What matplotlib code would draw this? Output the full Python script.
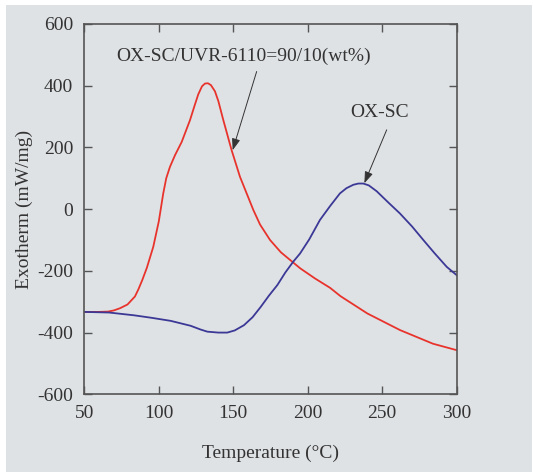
import matplotlib
matplotlib.use("Agg")
import matplotlib.pyplot as plt
from matplotlib.patches import Rectangle

# OX-SC/UVR-6110=90/10(wt%) curve (red)
red_t = [50, 60, 66, 70, 74, 79, 84, 86.3, 88.9, 92, 96.3, 100, 103, 105, 107.5, 110.9,
         115.4, 121, 124, 126.5, 129, 131, 133, 135, 137.7, 140, 143.3, 148.9, 154.5,
         163.5, 168, 174.7, 182, 190, 195, 205, 215, 222, 240, 262, 284, 300]
red_v = [-333, -333, -332, -328, -321, -309, -283, -260, -230, -190, -122, -40, 51, 100, 137, 175,
         218, 289, 335, 372, 398, 407, 408, 402, 382, 350, 289, 191, 105,
         -3, -50, -100, -140, -172, -192, -225, -255, -282, -338, -392, -436, -457]

# OX-SC curve (blue)
blue_t = [50, 66.6, 83.4, 95, 108, 121.4, 128, 132.6, 140, 146, 151, 157.2, 163, 168.4,
          174, 179.6, 185, 190.3, 194.8, 201, 208.2, 215, 221.6, 226, 230.6, 234, 237.3,
          241, 246.3, 254, 261.9, 270, 277.6, 285, 293.3, 300]
blue_v = [-333, -335, -344, -352, -362, -378, -390, -397, -400, -400, -393, -376, -350, -317,
          -280, -246, -205, -170, -144, -98, -35, 10, 51, 68, 79, 83, 83,
          77, 58, 22, -14, -56, -100, -142, -187, -214]

x_ticks = [50, 100, 150, 200, 250, 300]
y_ticks = [-600, -400, -200, 0, 200, 400, 600]

BG = "#dfe2e5"
TXT = "#333333"

plt.rcParams['font.family'] = ['Liberation Serif', 'DejaVu Serif']
plt.rcParams['axes.unicode_minus'] = False

fig = plt.figure(figsize=(5.33, 4.72), dpi=100)
fig.patches.append(Rectangle((6 / 533, 0), 1 - 7 / 533, 1 - 5 / 472,
                             transform=fig.transFigure, facecolor=BG,
                             edgecolor="none", zorder=-10))
ax = fig.add_axes([84.3 / 533, (472 - 394.3) / 472, 372.4 / 533, 370.3 / 472])
ax.set_facecolor(BG)

ax.plot(red_t, red_v, color="#e8332c", lw=1.3)
ax.plot(blue_t, blue_v, color="#3b3896", lw=1.3)

ax.set_xlim(50, 300)
ax.set_ylim(-600, 600)
ax.set_xticks(x_ticks)
ax.set_yticks(y_ticks)
ax.tick_params(direction="in", top=True, right=True, length=6, width=1,
               color="#555555", labelsize=14, labelcolor=TXT, pad=8)
for s in ax.spines.values():
    s.set_color("#555555")
    s.set_linewidth(1.2)

ax.set_xlabel("Temperature (°C)", fontsize=14, color=TXT, labelpad=16)
ax.set_ylabel("Exotherm (mW/mg)", fontsize=14, color=TXT, labelpad=3)

arrow = dict(arrowstyle="-|>,head_length=0.7,head_width=0.25", color="#333333",
             lw=0.7, shrinkA=0, shrinkB=0)
ax.text(157, 494, "OX-SC/UVR-6110=90/10(wt%)", ha="center", va="center",
        fontsize=14, color=TXT)
ax.annotate("", xy=(149.6, 191), xytext=(165.7, 446), arrowprops=arrow)
ax.text(248.5, 312, "OX-SC", ha="center", va="center", fontsize=14, color=TXT)
ax.annotate("", xy=(238, 84), xytext=(253, 257), arrowprops=arrow)

fig.savefig("out.png", dpi=100, facecolor="white")
